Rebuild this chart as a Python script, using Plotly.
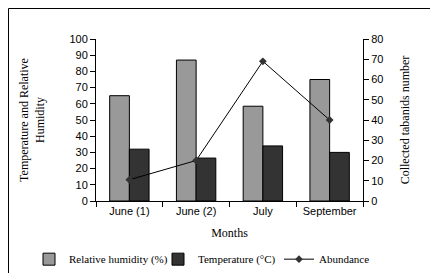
import plotly.graph_objects as go

months = ["June (1)", "June (2)", "July", "September"]
humidity = [65, 87, 58.5, 75]
temperature = [32, 26.5, 34, 30]
abundance = [10.5, 20, 69, 40]

serif = "Liberation Serif, Times New Roman, serif"
sans = "Liberation Sans, Arial, sans-serif"

fig = go.Figure()
fig.add_trace(go.Bar(x=months, y=humidity, name="Relative humidity (%)", legend="legend",
                     marker=dict(color="#999999", line=dict(color="#000000", width=1))))
fig.add_trace(go.Bar(x=months, y=temperature, name="Temperature (°C)", legend="legend2",
                     marker=dict(color="#333333", line=dict(color="#000000", width=1))))
fig.add_trace(go.Scatter(x=months, y=abundance, name="Abundance", yaxis="y2", legend="legend3",
                         mode="lines+markers",
                         line=dict(color="#000000", width=1),
                         marker=dict(symbol="diamond", size=6, color="#333333")))

legfont = dict(family=serif, size=11, color="#000")
legcommon = dict(orientation="h", xref="container", yref="container", y=0.08,
                 yanchor="middle", xanchor="left", font=legfont, itemwidth=30,
                 bgcolor="rgba(0,0,0,0)")

fig.update_layout(
    width=438, height=273,
    margin=dict(l=88, r=83, t=31, b=80, autoexpand=False),
    paper_bgcolor="white", plot_bgcolor="white",
    barmode="group", bargap=0.41, bargroupgap=0,
    showlegend=True,
    legend=dict(x=21 / 438, **legcommon),
    legend2=dict(x=150 / 438, **legcommon),
    legend3=dict(x=271 / 438, **legcommon),
    xaxis=dict(showline=True, linecolor="#000", linewidth=1, ticks="outside",
               tickson="boundaries", ticklen=5, tickcolor="#000",
               tickfont=dict(family=sans, size=11, color="#000"),
               title=dict(text="Months", font=dict(family=serif, size=12, color="#000"), standoff=12),
               showgrid=False),
    yaxis=dict(range=[0, 100], dtick=10, showline=True, linecolor="#000", linewidth=1,
               ticks="outside", ticklen=5, tickcolor="#000", showgrid=False, zeroline=False,
               tickfont=dict(family=sans, size=11, color="#000"),
               title=dict(text="Temperature and Relative<br>Humidity",
                          font=dict(family=serif, size=12, color="#000"), standoff=22)),
    yaxis2=dict(range=[0, 80], dtick=10, overlaying="y", side="right", showline=True,
                linecolor="#000", linewidth=1, ticks="outside", ticklen=5, tickcolor="#000",
                showgrid=False, zeroline=False,
                tickfont=dict(family=sans, size=11, color="#000"),
                title=dict(text="Collected tabanids number",
                           font=dict(family=serif, size=12, color="#000"), standoff=18)),
    shapes=[dict(type="rect", xref="paper", yref="paper", x0=-87.5/267, x1=1+82.5/267,
                 y0=-79.5/162, y1=1+30.5/162, line=dict(color="#000", width=1))],
)

fig.write_html("out.html")
